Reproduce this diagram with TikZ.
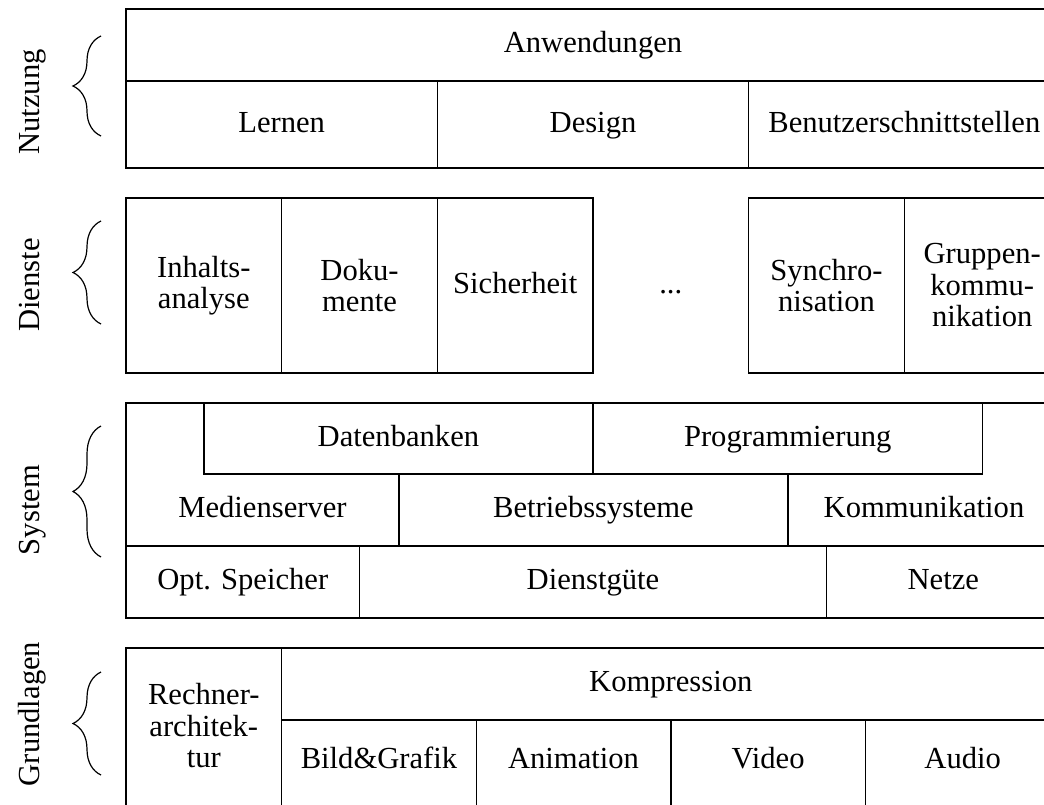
\documentclass[tikz,border=0pt]{standalone}
\usepackage{fontspec}
\setmainfont{Liberation Serif}
\usetikzlibrary{decorations.pathreplacing}

\begin{document}
\begin{tikzpicture}[
  x=1pt,
  y=-1pt,
  box/.style={
    draw,
    line width=1.5pt
  },
  lbl/.style={
    font=\fontsize{30.6}{32}\selectfont,
    text height=21.4pt,
    text depth=6.1pt,
    inner sep=0pt
  },
  mlbl/.style={
    font=\fontsize{30.6}{31.5}\selectfont,
    align=center,
    inner sep=0pt
  },
  layer/.style={
    font=\fontsize{30.6}{32}\selectfont,
    rotate=90,
    anchor=base,
    inner sep=0pt
  },
  klammer/.style={
    decorate,
    decoration={brace,amplitude=28pt},
    line width=1.2pt
  }
]
\useasboundingbox (0,0) rectangle (1044,805);
\clip (0,0) rectangle (1044,805);

% Nutzung
\draw[box] (126,9) rectangle (1060,168);
\draw[box] (126,81) -- (1060,81);
\foreach \x in {437.3,748.7}
  \draw[box] (\x,81) -- (\x,168);
\node[lbl] (anw) at (593,45) {Anwendungen};
\node[lbl] (lern) at (281.7,124.5) {Lernen};
\node[lbl] (des) at (593,124.5) {Design};
\node[lbl] (bsst) at (904.3,124.5) {Benutzerschnittstellen};

% Dienste
\draw[box] (126,198) rectangle (593,373);
\draw[box] (748.7,198) rectangle (1060,373);
\foreach \x in {281.7,437.3,904.3}
  \draw[box] (\x,198) -- (\x,373);
\node[mlbl] (inh) at (203.8,285.5) {Inhalts-\\analyse};
\node[mlbl] (dok) at (359.5,285.5) {Doku-\\mente};
\node[lbl] (sich) at (515.2,285.5) {Sicherheit};
\node[lbl] (pkt) at (670.8,285.5) {...};
\node[mlbl] (sync) at (826.5,285.5) {Synchro-\\nisation};
\node[mlbl] (grk) at (982.2,285.5) {Gruppen-\\kommu-\\nikation};

% System
\draw[box] (126,403) rectangle (1060,618);
\draw[box] (203.8,403) rectangle (593,474);
\draw[box] (593,403) rectangle (982.3,474);
\draw[box] (126,546) -- (1060,546);
\foreach \x in {399,788}
  \draw[box] (\x,474) -- (\x,546);
\foreach \x in {359.5,826.5}
  \draw[box] (\x,546) -- (\x,618);
\node[lbl] (dbk) at (398.4,438.5) {Datenbanken};
\node[lbl] (prog) at (787.7,438.5) {Programmierung};
\node[lbl] (mserv) at (262.5,510) {Medienserver};
\node[lbl] (bs) at (593.5,510) {Betriebssysteme};
\node[lbl] (komm) at (924,510) {Kommunikation};
\node[lbl] (ospk) at (242.8,582) {Opt. Speicher};
\node[lbl] (dg) at (593,582) {Dienstgüte};
\node[lbl] (netz) at (943.3,582) {Netze};

% Grundlagen
\draw[box] (126,648) rectangle (1060,815);
\draw[box] (281.7,648) -- (281.7,815);
\draw[box] (281.7,720) -- (1060,720);
\foreach \x in {476.3,670.8,865.4}
  \draw[box] (\x,720) -- (\x,815);
\node[mlbl] (rarch) at (203.8,726) {Rechner-\\architek-\\tur};
\node[lbl] (komp) at (670.8,684) {Kompression};
\node[lbl] (bild) at (379,760.4) {Bild\&Grafik};
\node[lbl] (anim) at (573.5,760.4) {Animation};
\node[lbl] (vid) at (768.1,760.4) {Video};
\node[lbl] (aud) at (962.7,760.4) {Audio};

% Schichten links
\coordinate (nu1) at (101,136);
\coordinate (nu2) at (101,36);
\coordinate (di1) at (101,324);
\coordinate (di2) at (101,221);
\coordinate (sy1) at (101,557);
\coordinate (sy2) at (101,426);
\coordinate (gr1) at (101,775);
\coordinate (gr2) at (101,672);
\draw[klammer] (nu1) -- (nu2);
\draw[klammer] (di1) -- (di2);
\draw[klammer] (sy1) -- (sy2);
\draw[klammer] (gr1) -- (gr2);
\node[layer] (nutz) at (39,102) {Nutzung};
\node[layer] (dien) at (39,285) {Dienste};
\node[layer] (syst) at (39,510) {System};
\node[layer] (grund) at (39,714) {Grundlagen};
\end{tikzpicture}
\end{document}
